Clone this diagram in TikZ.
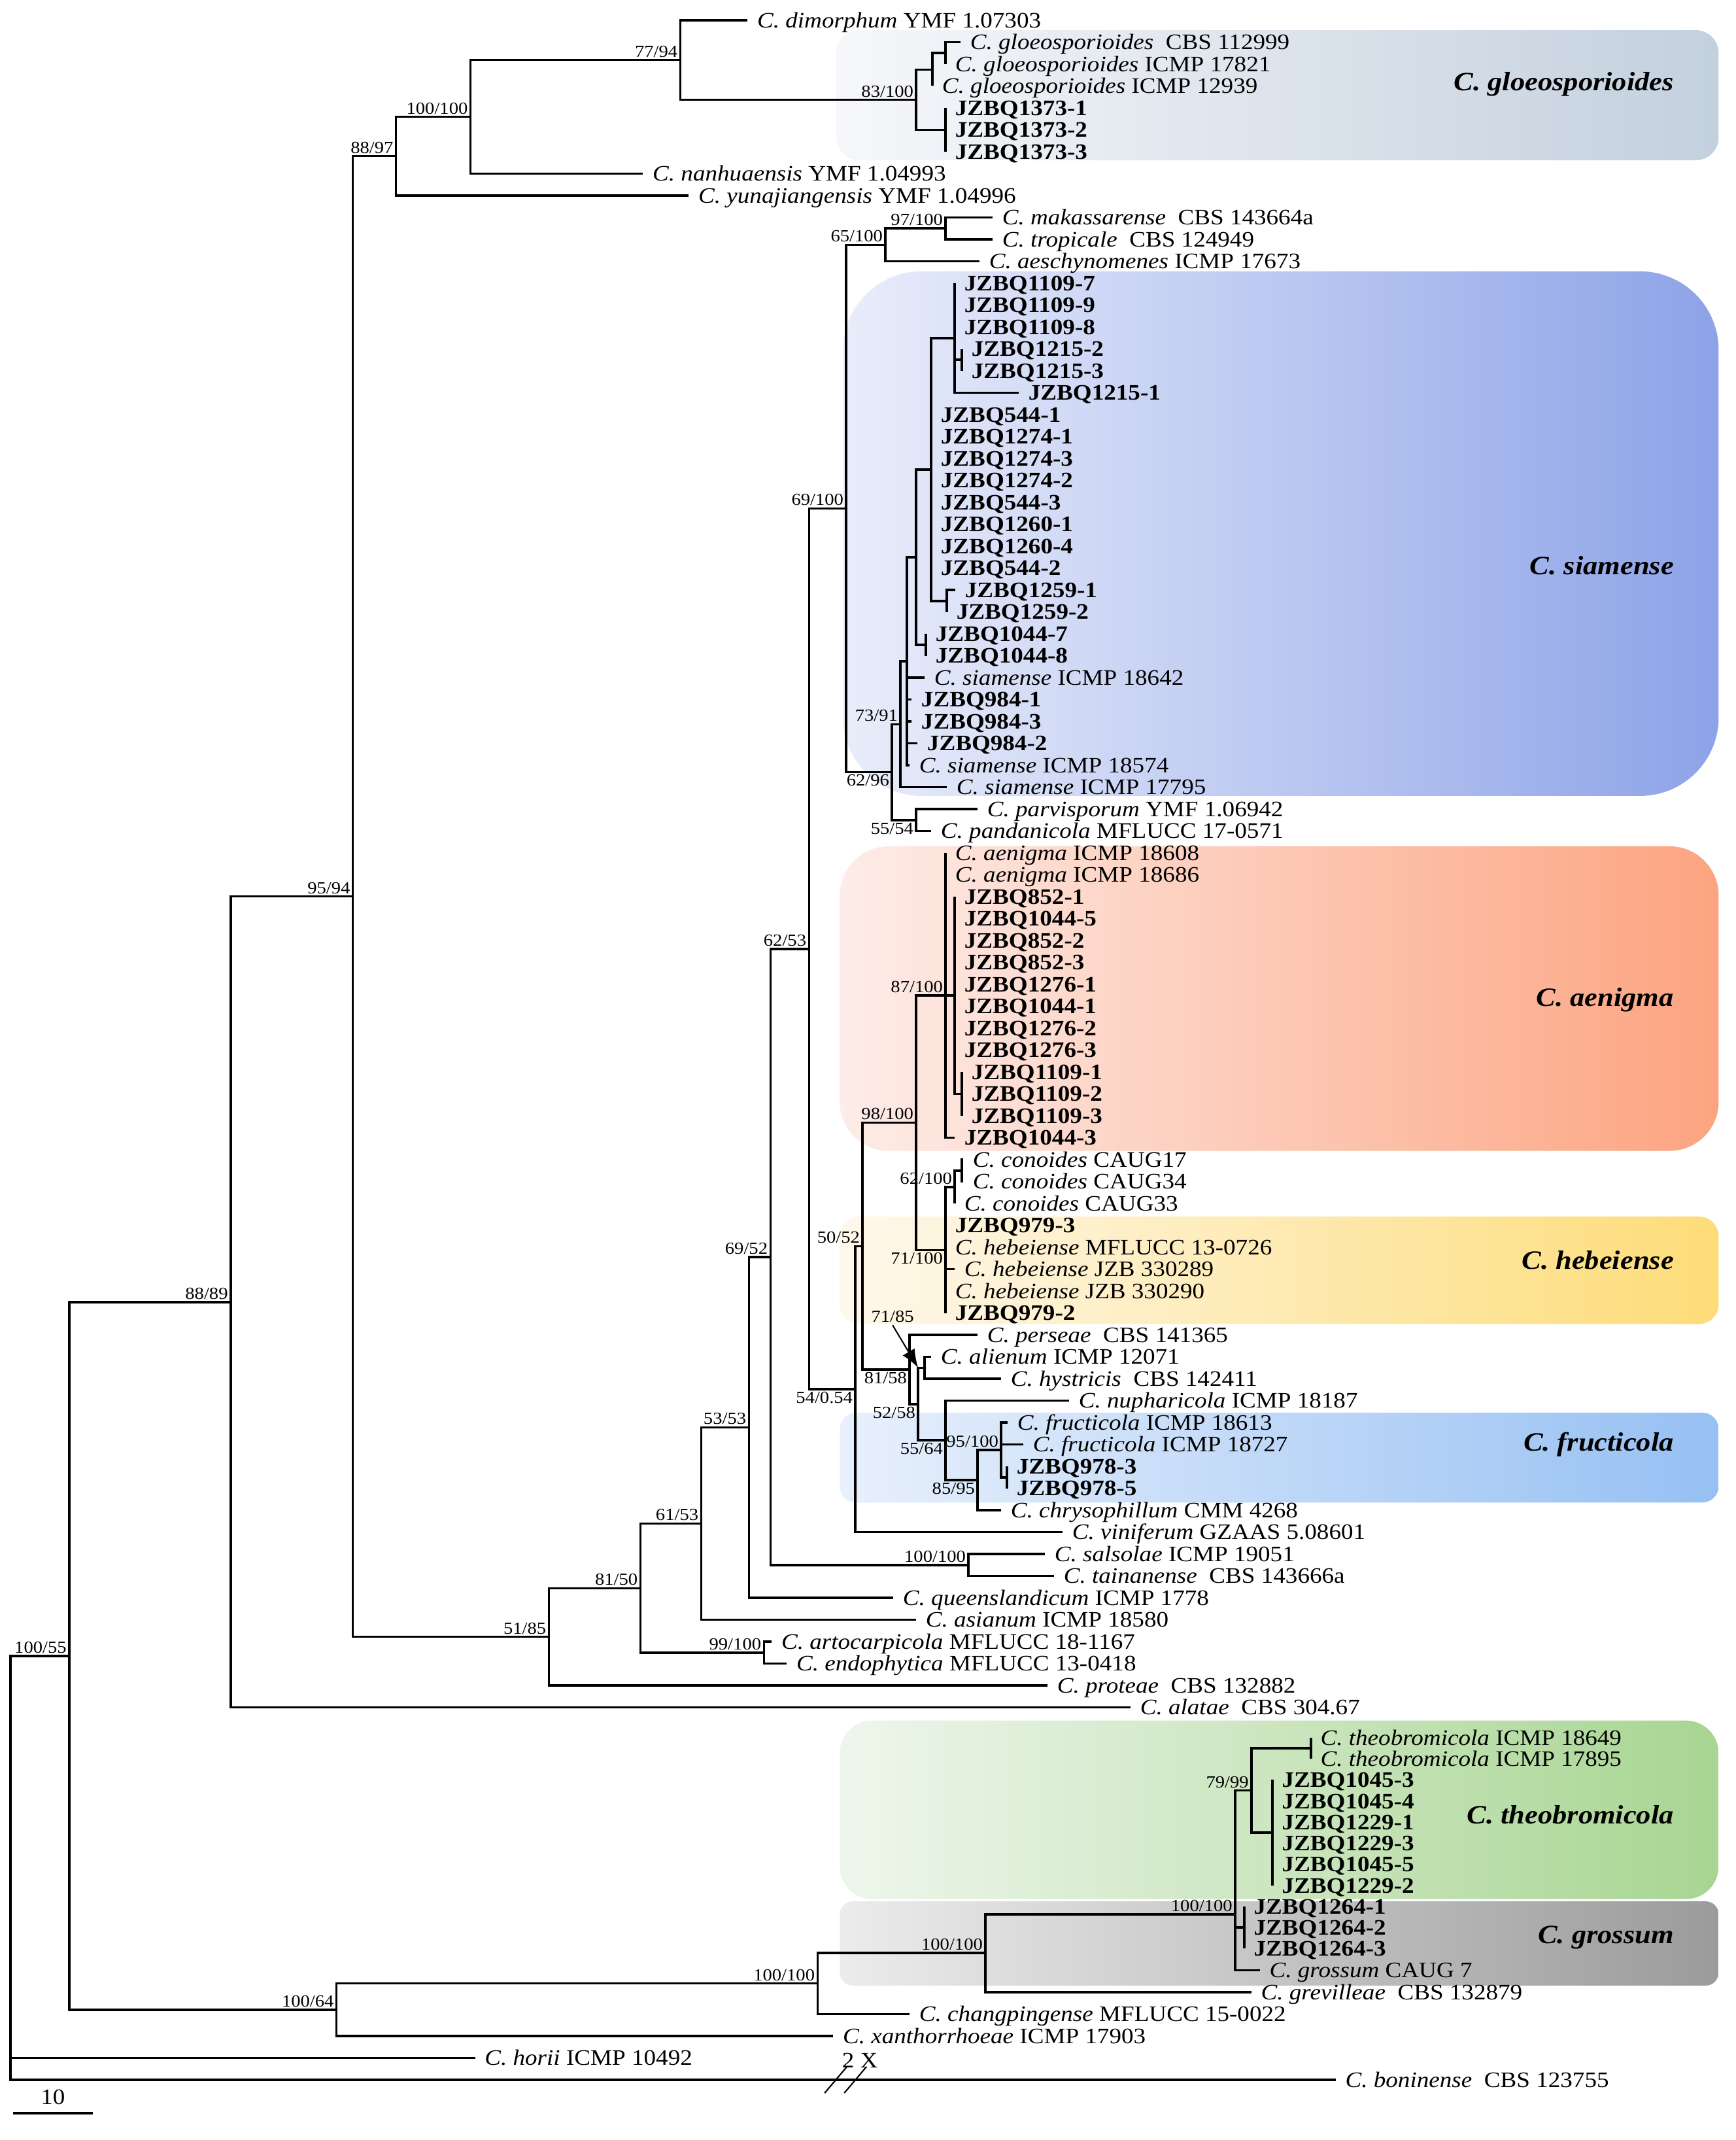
\documentclass[tikz,border=0pt]{standalone}
\usepackage{fontspec}
\setmainfont{Liberation Serif}[FakeStretch=1.1]
\usetikzlibrary{arrows.meta}
\newcommand{\leaffont}{\fontsize{9.6}{11}\selectfont}
\definecolor{gloL}{RGB}{246,247,250}
\definecolor{gloR}{RGB}{195,208,222}
\definecolor{siaL}{RGB}{233,237,250}
\definecolor{siaR}{RGB}{141,163,232}
\definecolor{aenL}{RGB}{253,236,232}
\definecolor{aenR}{RGB}{252,164,128}
\definecolor{hebL}{RGB}{254,248,236}
\definecolor{hebR}{RGB}{253,220,120}
\definecolor{fruL}{RGB}{232,240,252}
\definecolor{fruR}{RGB}{150,192,243}
\definecolor{theL}{RGB}{238,246,236}
\definecolor{theR}{RGB}{168,213,146}
\definecolor{groL}{RGB}{236,236,236}
\definecolor{groR}{RGB}{155,155,155}

\begin{document}
\begin{tikzpicture}[x=0.01cm, y=-0.335cm,
  br/.style={black, line width=1pt},
  leaf/.style={anchor=west, inner xsep=4pt, inner ysep=0pt, text height=6.4pt, text depth=0pt, font=\leaffont},
  iso/.style={leaf, font=\leaffont\bfseries},
  bs/.style={inner sep=1pt, font=\fontsize{7.4}{8.5}\selectfont},
  clade/.style={anchor=east, inner sep=0pt, font=\fontsize{11.5}{13}\selectfont\bfseries\itshape}]
\useasboundingbox (0,0.0746) rectangle (2656,97.746);

% clade boxes
\shade[rounded corners=0.35cm, left color=gloL, right color=gloR] (1280,1.45) rectangle (2630,7.39);
\shade[rounded corners=1.2cm, left color=siaL, right color=siaR] (1290,12.46) rectangle (2630,36.4);
\shade[rounded corners=0.75cm, left color=aenL, right color=aenR] (1285,38.7) rectangle (2630,52.6);
\shade[rounded corners=0.3cm, left color=hebL, right color=hebR] (1285,55.6) rectangle (2630,60.5);
\shade[rounded corners=0.25cm, left color=fruL, right color=fruR] (1285,64.55) rectangle (2630,68.65);
\shade[rounded corners=0.5cm, left color=theL, right color=theR] (1285,78.6) rectangle (2630,86.75);
\shade[rounded corners=0.2cm, left color=groL, right color=groR] (1285,86.85) rectangle (2630,90.7);

\node[clade] (cglo) at (2562,3.93) {C. gloeosporioides};
\node[clade] (csia) at (2562,25.9) {C. siamense};
\node[clade] (caen) at (2562,45.7) {C. aenigma};
\node[clade] (cheb) at (2562,57.6) {C. hebeiense};
\node[clade] (cfru) at (2562,66.0) {C. fructicola};
\node[clade] (cthe) at (2562,82.9) {C. theobromicola};
\node[clade] (cgro) at (2562,88.5) {C. grossum};

% internal nodes
\coordinate (root) at (16,85.3);
\coordinate (n1) at (106,75.65);
\coordinate (n2) at (353,59.5);
\coordinate (n3) at (515,91.8);
\coordinate (n4) at (540,40.99);
\coordinate (n5) at (606,7.2);
\coordinate (n5a) at (720,5.41);
\coordinate (n5b) at (1041,2.81);
\coordinate (n5c) at (1402,4.63);
\coordinate (n5d) at (1427,3.25);
\coordinate (n5e) at (1447,2.5);
\coordinate (n5f) at (1447,6);
\coordinate (n6) at (840,74.78);
\coordinate (n7) at (980,72.56);
\coordinate (n8) at (1073,69.61);
\coordinate (n9) at (1169,75.5);
\coordinate (n10) at (1146,65.22);
\coordinate (n11) at (1179,57.44);
\coordinate (n12) at (1238,43.38);
\coordinate (n13) at (1482,71.5);
\coordinate (n14) at (1295,23.28);
\coordinate (n15) at (1309,63.47);
\coordinate (n16) at (1355,11.25);
\coordinate (n17) at (1365,35.31);
\coordinate (n18) at (1447,10.5);
\coordinate (n19) at (1378,33.13);
\coordinate (n20) at (1402,37.5);
\coordinate (n21) at (1388,30.25);
\coordinate (n22) at (1402,25.5);
\coordinate (n23) at (1425,21.5);
\coordinate (n24) at (1417,29.5);
\coordinate (n25) at (1461,15.5);
\coordinate (n26) at (1449,27.5);
\coordinate (n27) at (1472,16.5);
\coordinate (n28) at (1392,62.58);
\coordinate (n29) at (1320,56.95);
\coordinate (n30) at (1402,51.31);
\coordinate (n31) at (1447,45.5);
\coordinate (n32) at (1447,57.13);
\coordinate (n33) at (1461,45.5);
\coordinate (n34) at (1472,50);
\coordinate (n35) at (1461,54.25);
\coordinate (n36) at (1472,53.5);
\coordinate (n38) at (1405,64.16);
\coordinate (n39) at (1415,62.5);
\coordinate (n41) at (1447,65.81);
\coordinate (n42) at (1496,67.63);
\coordinate (n43) at (1532,66.25);
\coordinate (n44) at (1541,67.5);
\coordinate (n46) at (1251,90.6);
\coordinate (n47) at (1508,89.2);
\coordinate (n48) at (1890,87.45);
\coordinate (n49) at (1915,81.79);
\coordinate (n50) at (1904,88.05);
\coordinate (n51) at (2006,79.86);
\coordinate (n52) at (1947,83.72);

% leaves
\node[leaf] (l1) at (1144,1) {\textit{C. dimorphum} YMF 1.07303};
\node[leaf] (l2) at (1470,2) {\textit{C. gloeosporioides}\ \ CBS 112999};
\node[leaf] (l3) at (1447,3) {\textit{C. gloeosporioides} ICMP 17821};
\node[leaf] (l4) at (1427,4) {\textit{C. gloeosporioides} ICMP 12939};
\node[leaf] (l8) at (984,8) {\textit{C. nanhuaensis} YMF 1.04993};
\node[leaf] (l9) at (1054,9) {\textit{C. yunajiangensis} YMF 1.04996};
\node[leaf] (l10) at (1519,10) {\textit{C. makassarense}\ \ CBS 143664a};
\node[leaf] (l11) at (1519,11) {\textit{C. tropicale}\ \ CBS 124949};
\node[leaf] (l12) at (1499,12) {\textit{C. aeschynomenes} ICMP 17673};
\node[iso] (l18) at (1559,18) {JZBQ1215-1};
\node[iso] (l27) at (1462,27) {JZBQ1259-1};
\node[iso] (l28) at (1449,28) {JZBQ1259-2};
\node[leaf] (l31) at (1415,31) {\textit{C. siamense} ICMP 18642};
\node[iso] (l32) at (1395,32) {JZBQ984-1};
\node[iso] (l33) at (1395,33) {JZBQ984-3};
\node[iso] (l34) at (1404,34) {JZBQ984-2};
\node[leaf] (l35) at (1392,35) {\textit{C. siamense} ICMP 18574};
\node[leaf] (l36) at (1449,36) {\textit{C. siamense} ICMP 17795};
\node[leaf] (l37) at (1496,37) {\textit{C. parvisporum} YMF 1.06942};
\node[leaf] (l38) at (1425,38) {\textit{C. pandanicola} MFLUCC 17-0571};
\node[leaf] (l39) at (1447,39) {\textit{C. aenigma} ICMP 18608};
\node[leaf] (l40) at (1447,40) {\textit{C. aenigma} ICMP 18686};
\node[iso] (l52) at (1461,52) {JZBQ1044-3};
\node[leaf] (l53) at (1474,53) {\textit{C. conoides} CAUG17};
\node[leaf] (l54) at (1474,54) {\textit{C. conoides} CAUG34};
\node[leaf] (l55) at (1461,55) {\textit{C. conoides} CAUG33};
\node[iso] (l56) at (1447,56) {JZBQ979-3};
\node[leaf] (l57) at (1447,57) {\textit{C. hebeiense} MFLUCC 13-0726};
\node[leaf] (l58) at (1461,58) {\textit{C. hebeiense} JZB 330289};
\node[leaf] (l59) at (1447,59) {\textit{C. hebeiense} JZB 330290};
\node[iso] (l60) at (1447,60) {JZBQ979-2};
\node[leaf] (l61) at (1496,61) {\textit{C. perseae}\ \ CBS 141365};
\node[leaf] (l62) at (1425,62) {\textit{C. alienum} ICMP 12071};
\node[leaf] (l63) at (1532,63) {\textit{C. hystricis}\ \ CBS 142411};
\node[leaf] (l64) at (1636,64) {\textit{C. nupharicola} ICMP 18187};
\node[leaf] (l65) at (1542,65) {\textit{C. fructicola} ICMP 18613};
\node[leaf] (l66) at (1566,66) {\textit{C. fructicola} ICMP 18727};
\node[iso] (l67) at (1541,67) {JZBQ978-3};
\node[iso] (l68) at (1541,68) {JZBQ978-5};
\node[leaf] (l69) at (1532,69) {\textit{C. chrysophillum} CMM 4268};
\node[leaf] (l70) at (1626,70) {\textit{C. viniferum} GZAAS 5.08601};
\node[leaf] (l71) at (1599,71) {\textit{C. salsolae} ICMP 19051};
\node[leaf] (l72) at (1613,72) {\textit{C. tainanense}\ \ CBS 143666a};
\node[leaf] (l73) at (1367,73) {\textit{C. queenslandicum} ICMP 1778};
\node[leaf] (l74) at (1402,74) {\textit{C. asianum} ICMP 18580};
\node[leaf] (l75) at (1181,75) {\textit{C. artocarpicola} MFLUCC 18-1167};
\node[leaf] (l76) at (1204,76) {\textit{C. endophytica} MFLUCC 13-0418};
\node[leaf] (l77) at (1603,77) {\textit{C. proteae}\ \ CBS 132882};
\node[leaf] (l78) at (1730,78) {\textit{C. alatae}\ \ CBS 304.67};
\node[leaf] (l79) at (2006,79.38) {\textit{C. theobromicola} ICMP 18649};
\node[leaf] (l80) at (2006,80.345) {\textit{C. theobromicola} ICMP 17895};
\node[leaf] (l90) at (1928,90) {\textit{C. grossum} CAUG 7};
\node[leaf] (l91) at (1915,91) {\textit{C. grevilleae}\ \ CBS 132879};
\node[leaf] (l92) at (1392,92) {\textit{C. changpingense} MFLUCC 15-0022};
\node[leaf] (l93) at (1275,93) {\textit{C. xanthorrhoeae} ICMP 17903};
\node[leaf] (l94) at (727,94) {\textit{C. horii} ICMP 10492};
\node[leaf] (l95) at (2044,95) {\textit{C. boninense}\ \ CBS 123755};

% strain groups on short or zero branches
\foreach \r/\t in {5/JZBQ1373-1,6/JZBQ1373-2,7/JZBQ1373-3}{
  \node[iso] (l\r) at (1447,\r) {\t};
  \draw[br] (n5f) |- (l\r.west);
}
\foreach \r/\t in {13/JZBQ1109-7,14/JZBQ1109-9,15/JZBQ1109-8}{
  \node[iso] (l\r) at (1461,\r) {\t};
  \draw[br] (n25) |- (l\r.west);
}
\foreach \r/\t in {16/JZBQ1215-2,17/JZBQ1215-3}{
  \node[iso] (l\r) at (1472,\r) {\t};
  \draw[br] (n27) |- (l\r.west);
}
\foreach \r/\t in {19/JZBQ544-1,20/JZBQ1274-1,21/JZBQ1274-3,22/JZBQ1274-2,23/JZBQ544-3,24/JZBQ1260-1,25/JZBQ1260-4,26/JZBQ544-2}{
  \node[iso] (l\r) at (1425,\r) {\t};
  \draw[br] (n23) |- (l\r.west);
}
\foreach \r/\t in {29/JZBQ1044-7,30/JZBQ1044-8}{
  \node[iso] (l\r) at (1417,\r) {\t};
  \draw[br] (n24) |- (l\r.west);
}
\foreach \r/\t in {41/JZBQ852-1,42/JZBQ1044-5,43/JZBQ852-2,44/JZBQ852-3,45/JZBQ1276-1,46/JZBQ1044-1,47/JZBQ1276-2,48/JZBQ1276-3}{
  \node[iso] (l\r) at (1461,\r) {\t};
  \draw[br] (n33) |- (l\r.west);
}
\foreach \r/\t in {49/JZBQ1109-1,50/JZBQ1109-2,51/JZBQ1109-3}{
  \node[iso] (l\r) at (1472,\r) {\t};
  \draw[br] (n34) |- (l\r.west);
}
\foreach \r/\y/\t in {81/81.31/JZBQ1045-3,82/82.275/JZBQ1045-4,83/83.24/JZBQ1229-1,84/84.205/JZBQ1229-3,85/85.17/JZBQ1045-5,86/86.135/JZBQ1229-2}{
  \node[iso] (l\r) at (1947,\y) {\t};
  \draw[br] (n52) |- (l\r.west);
}
\foreach \r/\y/\t in {87/87.1/JZBQ1264-1,88/88.05/JZBQ1264-2,89/89/JZBQ1264-3}{
  \node[iso] (l\r) at (1904,\y) {\t};
  \draw[br] (n50) |- (l\r.west);
}

% branches
\draw[br] (root) |- (n1) (root) |- (l94.west) (root) |- (l95.west);
\draw[br] (n1) |- (n2) (n1) |- (n3);
\draw[br] (n2) |- (n4) (n2) |- (l78.west);
\draw[br] (n4) |- (n5) (n4) |- (n6);
\draw[br] (n5) |- (n5a) (n5) |- (l9.west);
\draw[br] (n5a) |- (n5b) (n5a) |- (l8.west);
\draw[br] (n5b) |- (l1.west) (n5b) |- (n5c);
\draw[br] (n5c) |- (n5d) (n5c) |- (n5f);
\draw[br] (n5d) |- (n5e) (n5d) |- (l4.west);
\draw[br] (n5e) |- (l2.west) (n5e) |- (l3.west);
\draw[br] (n6) |- (n7) (n6) |- (l77.west);
\draw[br] (n7) |- (n8) (n7) |- (n9);
\draw[br] (n9) |- (l75.west) (n9) |- (l76.west);
\draw[br] (n8) |- (n10) (n8) |- (l74.west);
\draw[br] (n10) |- (n11) (n10) |- (l73.west);
\draw[br] (n11) |- (n12) (n11) |- (n13);
\draw[br] (n13) |- (l71.west) (n13) |- (l72.west);
\draw[br] (n12) |- (n14) (n12) |- (n15);
\draw[br] (n14) |- (n16) (n14) |- (n17);
\draw[br] (n16) |- (n18) (n16) |- (l12.west);
\draw[br] (n18) |- (l10.west) (n18) |- (l11.west);
\draw[br] (n17) |- (n19) (n17) |- (n20);
\draw[br] (n20) |- (l37.west) (n20) |- (l38.west);
\draw[br] (n19) |- (n21) (n19) |- (l36.west);
\draw[br] (n21) |- (n22) (n21) |- (l31.west) (n21) |- (l32.west) (n21) |- (l33.west) (n21) |- (l34.west) (n21) |- (l35.west);
\draw[br] (n22) |- (n23) (n22) |- (n24);
\draw[br] (n23) |- (n25) (n23) |- (n26);
\draw[br] (n25) |- (n27) (n25) |- (l18.west);
\draw[br] (n26) |- (l27.west) (n26) |- (l28.west);
\draw[br] (n15) |- (n29) (n15) |- (l70.west);
\draw[br] (n29) |- (n30) (n29) |- (n28);
\draw[br] (n30) |- (n31) (n30) |- (n32);
\draw[br] (n31) |- (l39.west) (n31) |- (l40.west) (n31) |- (n33) (n31) |- (l52.west);
\draw[br] (n33) |- (n34);
\draw[br] (n32) |- (n35) (n32) |- (l56.west) (n32) |- (l57.west) (n32) |- (l58.west) (n32) |- (l59.west) (n32) |- (l60.west);
\draw[br] (n35) |- (n36) (n35) |- (l55.west);
\draw[br] (n36) |- (l53.west) (n36) |- (l54.west);
\draw[br] (n28) |- (l61.west) (n28) |- (n38);
\draw[br] (n38) |- (n39) (n38) |- (n41);
\draw[br] (n39) |- (l62.west) (n39) |- (l63.west);
\draw[br] (n41) |- (l64.west) (n41) |- (n42);
\draw[br] (n42) |- (n43) (n42) |- (l69.west);
\draw[br] (n43) |- (l65.west) (n43) |- (l66.west) (n43) |- (n44);
\draw[br] (n44) |- (l67.west) (n44) |- (l68.west);
\draw[br] (n3) |- (n46) (n3) |- (l93.west);
\draw[br] (n46) |- (n47) (n46) |- (l92.west);
\draw[br] (n47) |- (n48) (n47) |- (l91.west);
\draw[br] (n48) |- (n49) (n48) |- (n50) (n48) |- (l90.west);
\draw[br] (n49) |- (n51) (n49) |- (n52);
\draw[br] (n51) |- (l79.west) (n51) |- (l80.west);

% support values
\node[bs, above left] (s1) at (n1) {100/55};
\node[bs, above left] (s2) at (n2) {88/89};
\node[bs, above left] (s3) at (n3) {100/64};
\node[bs, above left] (s4) at (n4) {95/94};
\node[bs, above left] (s5) at (n5) {88/97};
\node[bs, above left] (s5a) at (n5a) {100/100};
\node[bs, above left] (s5b) at (n5b) {77/94};
\node[bs, above left] (s5c) at (n5c) {83/100};
\node[bs, above left] (s6) at (n6) {51/85};
\node[bs, above left] (s7) at (n7) {81/50};
\node[bs, above left] (s8) at (n8) {61/53};
\node[bs, above left] (s9) at (n9) {99/100};
\node[bs, above left] (s10) at (n10) {53/53};
\node[bs, above left] (s11) at (n11) {69/52};
\node[bs, above left] (s12) at (n12) {62/53};
\node[bs, above left] (s13) at (n13) {100/100};
\node[bs, above left] (s14) at (n14) {69/100};
\node[bs, below left] (s15) at (n15) {54/0.54};
\node[bs, above left] (s16) at (n16) {65/100};
\node[bs, below left] (s17) at (n17) {62/96};
\node[bs, above left] (s18) at (n18) {97/100};
\node[bs, above left] (s19) at (n19) {73/91};
\node[bs, below left] (s20) at (n20) {55/54};
\node[bs, below left] (s28) at (n28) {81/58};
\node[bs, above left] (s29) at (n29) {50/52};
\node[bs, above left] (s30) at (n30) {98/100};
\node[bs, above left] (s31) at (n31) {87/100};
\node[bs, below left] (s32) at (n32) {71/100};
\node[bs, above left] (s35) at (n35) {62/100};
\node[bs, below left] (s38) at (n38) {52/58};
\node[bs, below left] (s41) at (n41) {55/64};
\node[bs, below left] (s42) at (n42) {85/95};
\node[bs, above left] (s43) at (n43) {95/100};
\node[bs, above left] (s46) at (n46) {100/100};
\node[bs, above left] (s47) at (n47) {100/100};
\node[bs, above left] (s48) at (n48) {100/100};
\node[bs, above left] (s49) at (n49) {79/99};
\node[bs] (s39) at (1366,60.17) {71/85};
\draw[-{Latex[length=8pt,width=6pt]}, line width=0.6pt] (s39.south) -- (n38 |- n39);

% break on the long branch
\node[font=\leaffont] (twox) at (1316,94.1) {2 X};
\coordinate (k1) at (1262,95.6);
\coordinate (k2) at (1292,95.6);
\draw[line width=0.6pt] (k1) -- ++(34,-1.2) (k2) -- ++(34,-1.2);

% scale bar
\coordinate (sb1) at (20,96.52);
\coordinate (sb2) at (142,96.52);
\draw[br] (sb1) -- (sb2) node[midway, above, font=\leaffont] (sbl) {10};
\end{tikzpicture}
\end{document}
